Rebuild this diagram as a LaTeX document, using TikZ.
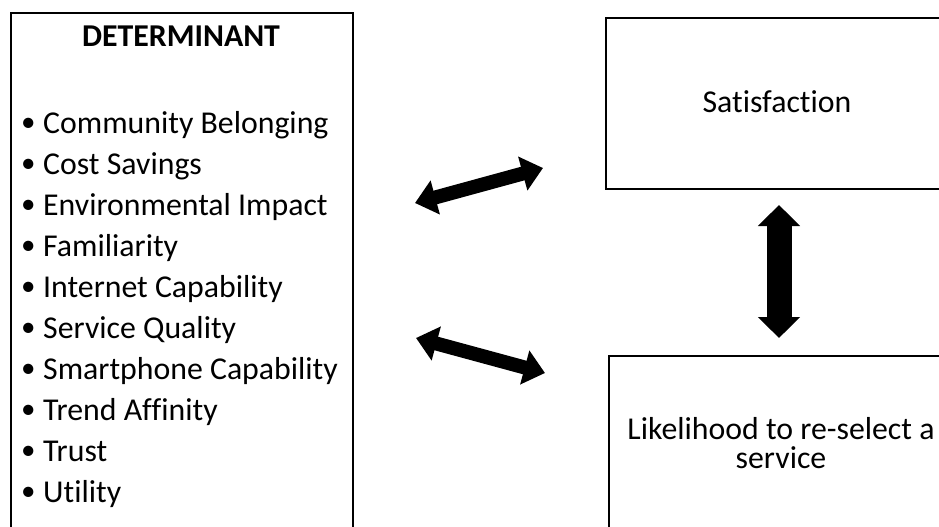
\documentclass[tikz,border=0pt]{standalone}
\usepackage{fontspec}
\setmainfont[Ligatures=NoCommon]{Carlito}
\usetikzlibrary{arrows.meta}
\newcommand{\boxfont}{\fontsize{31.8}{29}\selectfont}
\newcommand{\listdot}{\makebox[23pt][l]{\hspace{1pt}\raisebox{1.5pt}{\fontsize{29}{29}\selectfont•}}}
\tikzset{
	frame/.style={draw, line width=2pt, rectangle, inner sep=0pt, anchor=north west},
	twoway/.style={line width=14pt, {Triangle[width=34pt,length=21pt]}-{Triangle[width=34pt,length=21pt]}},
	label text/.style={font=\boxfont, inner sep=0pt},
}

\begin{document}
\begin{tikzpicture}[x=1pt,y=-1pt]
	\useasboundingbox (0,0) rectangle (939,527);

	% boxes
	\node[frame, minimum width=342pt, minimum height=530pt] (det) at (10,12) {};
	\node[frame, minimum width=345pt, minimum height=171pt] (sat) at (605,17) {};
	\node[frame, minimum width=345pt, minimum height=190pt] (like) at (608,355) {};

	% texts
	\node[label text, anchor=base, font=\boxfont\bfseries] (dethead) at (181,47) {DETERMINANT};
	\foreach \entry [count=\k from 0] in {Community Belonging, Cost Savings, Environmental Impact,
		Familiarity, Internet Capability, Service Quality, Smartphone Capability,
		Trend Affinity, Trust, Utility}
		\node[label text, anchor=base west] (item\k) at (20,{133+41*\k}) {\listdot\entry};
	\node[label text, anchor=base] (sattext) at (777,112) {Satisfaction};
	\node[label text, anchor=base, align=center] (liketext) at (781,468) {Likelihood to re-select a\\service};

	% arrows
	\coordinate (a1) at (415,203);
	\coordinate (b1) at (543,168);
	\coordinate (a2) at (416,338);
	\coordinate (b2) at (545,373);
	\coordinate (c1) at (779,205);
	\coordinate (c2) at (779,338);
	\draw[twoway] (a1) -- (b1);
	\draw[twoway] (a2) -- (b2);
	\draw[twoway, line width=25pt, {Triangle[width=41pt,length=21pt]}-{Triangle[width=41pt,length=21pt]}] (c1) -- (c2);
\end{tikzpicture}
\end{document}
